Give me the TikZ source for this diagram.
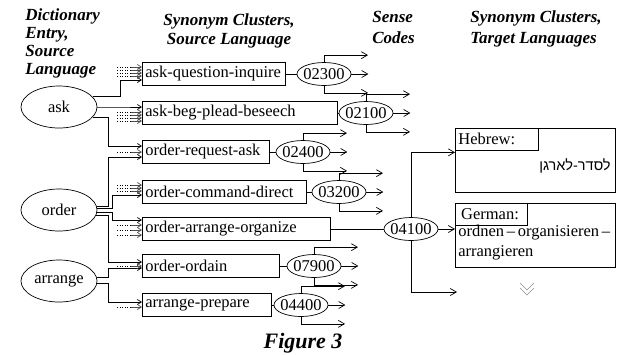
\documentclass[tikz,border=0pt]{standalone}
\usepackage{fontspec}
\setmainfont{Liberation Serif}
\newfontfamily\hebrewfont[Script=Hebrew]{Liberation Sans}
\TeXXeTstate=1
\usetikzlibrary{arrows.meta,%
                shapes.geometric,%
                positioning,%
                calc
              }
% name/y/text width/label/sense code/x of code
\def\setofclusters{aqi/74/137/ask-question-inquire/02300/324,
  abpb/113/189/ask-beg-plead-beseech/02100/366,
  ors/152/121/order-request-ask/02400/303,
  occ/192/158/order-command-direct/03200/339,
  ooo/229/182/order-arrange-organize/04100/411,
  oo/266/131/order-ordain/07900/314,
  ap/305/123/arrange-prepare/04400/301}
% from/to/turn/dy
\def\wordlinks{ask.17/aqi/-22/6, ask.0/abpb/-22/-6, ask.-17/ors/-34/-6,
  order.6/ors/-34/5, order.2/occ/-30/3, order.-3/ooo/-30/-9,
  order.-8/oo/-34/-4, arrange.5/oo/-34/2, arrange.-3/ap/-34/-3}
\def\dottedins{aqi/-7, aqi/-4, aqi/-1, aqi/2,
  abpb/-1, abpb/2, abpb/5, abpb/8, ors/0,
  occ/-7, occ/-4, occ/-1, ooo/-4, ooo/1, ooo/6, oo/0, ap/2}

\begin{document}
\begin{tikzpicture}[x=1pt,y=-1pt,line width=0.7pt,
    every node/.style={font=\fontsize{16.5}{20}\selectfont},
    hdr/.style={font=\fontsize{17}{20}\selectfont\bfseries\itshape,inner sep=0pt},
    word/.style={draw,ellipse,minimum width=76,minimum height=42,inner sep=0pt},
    sense/.style={draw,ellipse,minimum width=54,minimum height=23,
      inner xsep=-3pt,inner ysep=0pt},
    srcbox/.style={draw,anchor=west,minimum height=23,inner xsep=3pt,
      inner ysep=0pt,text width=#1pt,align=left},
    tab/.style={draw,anchor=north west,minimum height=22,inner xsep=3pt,
      inner ysep=0pt,text width=#1pt,align=left},
    sarr/.style={-{Straight Barb[length=6pt,width=7pt]}},
    farr/.style={-{Straight Barb[length=4pt,width=5pt]}}]

    \useasboundingbox (0,0) rectangle (623,354);

    %% HEADINGS
    \foreach \txt/\y in {Dictionary/20, {Entry,}/38, Source/56, Language/74}
      \node[hdr,anchor=base west] at (25,\y) {\txt};
    \node[hdr,anchor=base] (hsrc1) at (229,25) {Synonym Clusters,};
    \node[hdr,anchor=base] (hsrc2) at (229,44) {Source Language};
    \node[hdr,anchor=base west] (hsense1) at (372,22) {Sense};
    \node[hdr,anchor=base west] (hsense2) at (372,43) {Codes};
    \node[hdr,anchor=base west] (htgt1) at (470,22) {Synonym Clusters,};
    \node[hdr,anchor=base west] (htgt2) at (470,43) {Target Languages};

    %% DICTIONARY ENTRIES
    \node[word] (ask) at (59,107) {ask};
    \node[word] (order) at (59,210) {order};
    \node[word] (arrange) at (59,281) {arrange};

    %% CLUSTERS AND SENSE CODES
    \foreach \nm/\y/\w/\txt/\code/\sx in \setofclusters {%
      \node[srcbox=\w] (\nm) at (142,\y) {\mbox{\txt}};
      \node[sense] (s\code) at (\sx,\y) {\code};
      \draw (\nm) -- (s\code);
    }

    \foreach \from/\to/\tx/\dy in \wordlinks {%
      \draw[farr] (\from) -| ([shift={(\tx,\dy)}]\to.west)
        -- ([shift={(0,\dy)}]\to.west);
    }

    % other entries pointing in
    \foreach \to/\dy in \dottedins {%
      \draw[dotted,line width=0.6pt] ([shift={(-25,\dy)}]\to.west)
        -- ([shift={(-11,\dy)}]\to.west);
      \draw[farr,black!70] ([shift={(-11,\dy)}]\to.west)
        -- ([shift={(0,\dy)}]\to.west);
    }

    \foreach \code in {02300,02100,02400,03200,07900,04400} {%
      \draw[sarr] (s\code.north) -- ++(0,-7) -- ++(44,0);
      \draw[sarr] (s\code.east) -- ++(17,0);
      \draw[sarr] (s\code.south) -- ++(0,7) -- ++(44,0);
    }

    %% TARGET LANGUAGES
    \node[draw,anchor=north west,minimum width=160,minimum height=64,
      inner sep=0pt] (heb) at (455,128) {};
    \node[tab=77] (hebtab) at (heb.north west) {Hebrew:};
    \node[anchor=east,inner sep=0pt] (hebtxt) at (611,166)
      {\hebrewfont\fontsize{14.5}{17}\selectfont\beginR לסדר-לארגן\endR};

    \node[draw,anchor=north west,minimum width=160,minimum height=64,
      inner sep=0pt] (ger) at (455,203) {};
    \node[tab=66] (gertab) at (ger.north west) {\,German:};
    \node[anchor=north west,inner xsep=3pt,inner ysep=2pt,text width=154pt,
      align=left] (gertxt) at (455,223)
      {ordnen\,–\,organisieren\,–\\arrangieren};

    \coordinate (more) at (457,292);
    \draw[sarr] (s04100.north) |- ([shift={(0,-8)}]heb.west);
    \draw[sarr] (s04100.east) -- (s04100.east -| ger.west);
    \draw[sarr] (s04100.south) |- (more);
    \draw[black!45,line width=0.6pt] (520,283) -- (527,290) -- (534,283)
      (520,288) -- (527,295) -- (534,288);

    %% CAPTION
    \node[hdr,font=\fontsize{22}{24}\selectfont\bfseries\itshape,anchor=base]
      (fig) at (303,348) {Figure 3};

\end{tikzpicture}
\end{document}
